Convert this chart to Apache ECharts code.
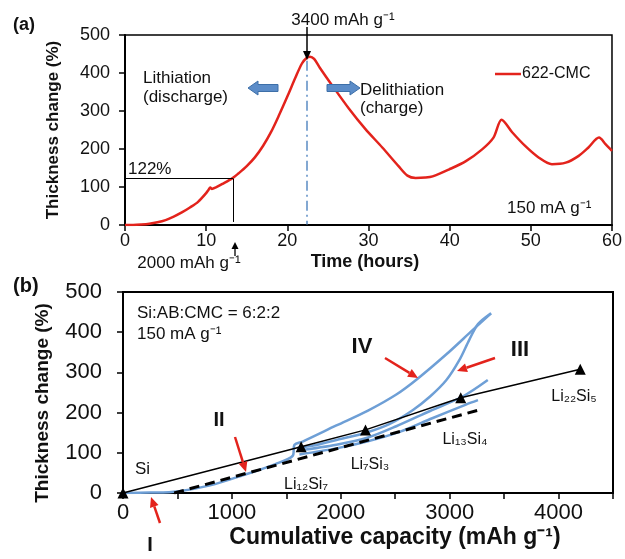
<!DOCTYPE html>
<html><head><meta charset="utf-8">
<script src="https://cdn.jsdelivr.net/npm/echarts@6/dist/echarts.min.js"></script>
<style>html,body{margin:0;padding:0;background:#fff}#c{width:625px;height:559px}</style>
</head><body><div id="c"></div>
<script>
// ---- Panel (a) data ----
const timeHours = [0,1,2,3,4,5,6,7,8,9,10,10.3,10.5,10.7,11.2,12,13.3,14,15,16,17,18,19,20,21,21.8,22.4,22.8,23.3,24,25.5,27.6,29.6,31.7,33.7,34.8,35.8,37,37.9,39.9,42,44,45.4,46.4,47.7,49.3,51,52.6,54.3,55.9,57.1,58.4,59.2,60];
const thicknessA = [0,0,1,3,7,13,22,33,46,61,84,93,99,95,99,108,124,136,155,178,208,245,290,338,388,425,440,443,437,414,368,306,253,204,155,130,124,125,128,146,168,199,230,277,244,208,177,160,164,182,204,230,213,195];
const seriesNameA = '622-CMC';
const xTicksA = {min:0, max:60, step:10};
const yTicks = {min:0, max:500, step:100};

// ---- Panel (b) data ----
const curveIVCap  = [0,250,500,800,1100,1400,1560,1575,1650,1960,2250,2510,2700,2970,3210,3380];
const curveIVVal  = [0,1,4,19,44,72,93,120,128,168,205,245,283,345,405,447];
const curveIIICap = [3380,3260,3180,3090,2970,2820,2660,2450,2230,1960,1750,1600];
const curveIIIVal = [447,420,381,331,281,240,206,172,150,132,118,112];
const curve3Cap   = [1600,1960,2250,2510,2820,3120,3350];
const curve3Val   = [105,120,138,166,204,240,281];
const curve4Cap   = [1620,1960,2240,2540,2840,3150,3260];
const curve4Val   = [96,111,128,152,186,220,231];
const dashedCap   = [470,3290];
const dashedVal   = [0,208];
const phaseNames  = ['Si','Li₁₂Si₇','Li₇Si₃','Li₁₃Si₄','Li₂₂Si₅'];
const phaseCap    = [0,1636,2227,3102,4199];
const phaseVal    = [0,115,157,237,308];
const xTicksB = {min:0, max:4500, step:500, labelStep:1000};

const zip = (a,b) => a.map((v,i)=>[v,b[i]]);
const F = '"Liberation Sans", Arial, sans-serif';
const BLUE = '#6e9fd6';
const RED = '#e3231c';

const chart = echarts.init(document.getElementById('c'));

function axisCommon(fs, margin){
  return {
    axisLine:{show:true, onZero:false, lineStyle:{color:'#000', width:2}},
    axisTick:{show:true, inside:false, length:6, lineStyle:{color:'#000', width:1.5}},
    axisLabel:{fontSize:fs, color:'#111', fontFamily:F, margin:margin},
    splitLine:{show:false}
  };
}

function txt(x,y,text,size,opts){
  opts = opts||{};
  return {type:'text', x:x, y:y, rotation:opts.rot||0, z:100,
    style:{text:text, font:(opts.bold?'bold ':'')+size+'px '+F, fill:opts.color||'#111',
      textAlign:opts.align||'left', textVerticalAlign:'middle'}};
}
function arrow(x1,y1,x2,y2,color,w,hl,hw){
  const a=Math.atan2(y2-y1,x2-x1);
  const bx=x2-hl*Math.cos(a), by=y2-hl*Math.sin(a);
  const px=-Math.sin(a)*hw/2, py=Math.cos(a)*hw/2;
  return [
    {type:'line', z:100, shape:{x1:x1,y1:y1,x2:bx,y2:by}, style:{stroke:color,lineWidth:w}},
    {type:'polygon', z:100, shape:{points:[[x2,y2],[bx+px,by+py],[bx-px,by-py]]}, style:{fill:color}}
  ];
}
function blockArrow(xTail,xTip,y,bh,hh,hl,color){
  const d = xTip>xTail?1:-1;
  const xb = xTip - d*hl;
  return {type:'polygon', z:100, shape:{points:[[xTail,y-bh/2],[xb,y-bh/2],[xb,y-hh/2],[xTip,y],[xb,y+hh/2],[xb,y+bh/2],[xTail,y+bh/2]]},
    style:{fill:color, stroke:'#3d6fa8', lineWidth:1}};
}

const graphics = [].concat(
  [
    txt(13,25,'(a)',18,{bold:true}),
    txt(13,286,'(b)',20,{bold:true}),
    txt(53,130,'Thickness change (%)',17,{bold:true,rot:Math.PI/2,align:'center'}),
    txt(43,403,'Thickness change (%)',19,{bold:true,rot:Math.PI/2,align:'center'}),
    txt(365,262,'Time (hours)',18,{bold:true,align:'center'}),
    txt(395,538,'Cumulative capacity (mAh g⁻¹)',23,{bold:true,align:'center'}),
    txt(343,20,'3400 mAh g⁻¹',17,{align:'center'}),
    txt(143,78,'Lithiation',17),
    txt(143,97,'(discharge)',17),
    txt(360,90,'Delithiation',17),
    txt(360,108,'(charge)',17),
    txt(507,208,'150 mA g⁻¹',17),
    txt(128,169,'122%',17),
    txt(189,263,'2000 mAh g⁻¹',17,{align:'center'}),
    txt(137,313,'Si:AB:CMC = 6:2:2',17),
    txt(137,334,'150 mA g⁻¹',17),
    txt(135,469,'Si',17),
    txt(306,485,phaseNames[1],16,{align:'center'}),
    txt(370,465,phaseNames[2],16,{align:'center'}),
    txt(465,440,phaseNames[3],16,{align:'center'}),
    txt(574,397,phaseNames[4],16,{align:'center'}),
    txt(219,420,'II',20,{bold:true,align:'center'}),
    txt(150,545,'I',20,{bold:true,align:'center'}),
    txt(362,347,'IV',22,{bold:true,align:'center'}),
    txt(520,350,'III',22,{bold:true,align:'center'}),
    blockArrow(278,248,88,7,14,10,'#5b8cc8'),
    blockArrow(327,360,88,7,14,10,'#5b8cc8')
  ],
  arrow(307,27,307,60,'#000',1.5,9,8),
  arrow(235,256,235,242,'#000',1.3,7,7),
  arrow(160,523,151,497,RED,2.5,10,9),
  arrow(235,437,246,472,RED,2.5,10,9),
  arrow(385,358,418,378,RED,2.5,10,9),
  arrow(495,358,457,371,RED,2.5,10,9)
);

const blueLine = (name,cap,val) => ({
  name:name, type:'line', xAxisIndex:1, yAxisIndex:1, data:zip(cap,val),
  showSymbol:false, symbol:'none', smooth:0.3, z:2,
  lineStyle:{color:BLUE, width:2.5}
});

chart.setOption({
  animation:false,
  backgroundColor:'#fff',
  grid:[
    {left:125, top:35, width:488, height:190, show:true, borderColor:'#000', borderWidth:1.5},
    {left:123, top:292, width:490, height:201, show:true, borderColor:'#000', borderWidth:2}
  ],
  legend:{show:true, data:[seriesNameA], left:490, top:61, icon:'rect', itemWidth:26, itemHeight:2.5, itemGap:0,
    textStyle:{fontSize:16, fontFamily:F, color:'#111', padding:[0,0,0,-4]}},
  xAxis:[
    Object.assign(axisCommon(18,7), {type:'value', gridIndex:0, min:xTicksA.min, max:xTicksA.max, interval:xTicksA.step}),
    Object.assign(axisCommon(22,9), {type:'value', gridIndex:1, min:xTicksB.min, max:xTicksB.max, interval:xTicksB.step})
  ],
  yAxis:[
    Object.assign(axisCommon(18,15), {type:'value', gridIndex:0, min:yTicks.min, max:yTicks.max, interval:yTicks.step}),
    Object.assign(axisCommon(22,21), {type:'value', gridIndex:1, min:yTicks.min, max:yTicks.max, interval:yTicks.step})
  ],
  graphic:graphics,
  series:[
    {name:seriesNameA, type:'line', xAxisIndex:0, yAxisIndex:0, data:zip(timeHours,thicknessA),
      showSymbol:false, symbol:'none', smooth:0.3, lineStyle:{color:RED, width:2.5}, itemStyle:{color:RED}, z:3,
      markLine:{silent:true, symbol:['none','none'], label:{show:false}, animation:false,
        data:[
          [{coord:[0,122], lineStyle:{color:'#000', width:1, type:'solid'}},{coord:[13.3,122]}],
          [{coord:[13.3,122], lineStyle:{color:'#000', width:1, type:'solid'}},{coord:[13.3,8]}],
          [{coord:[22.35,432], lineStyle:{color:'#5b8cc4', width:1.5, type:[10,4,2,4]}},{coord:[22.35,1]}]
        ]}
    },
    blueLine('IV',curveIVCap,curveIVVal),
    blueLine('III',curveIIICap,curveIIIVal),
    blueLine('c3',curve3Cap,curve3Val),
    blueLine('c4',curve4Cap,curve4Val),
    {name:'dashed', type:'line', xAxisIndex:1, yAxisIndex:1, data:zip(dashedCap,dashedVal), showSymbol:false, symbol:'none', z:4,
      lineStyle:{color:'#000', width:3, type:[10,6]}},
    {name:'phases', type:'line', xAxisIndex:1, yAxisIndex:1, data:zip(phaseCap,phaseVal), symbol:'triangle', symbolSize:11, showSymbol:true, z:5,
      lineStyle:{color:'#000', width:1.5}, itemStyle:{color:'#000'}}
  ]
});
chart.setOption({xAxis:[{},{axisLabel:{formatter:v => (v % xTicksB.labelStep === 0 ? String(v) : '')}}]});
</script></body></html>
